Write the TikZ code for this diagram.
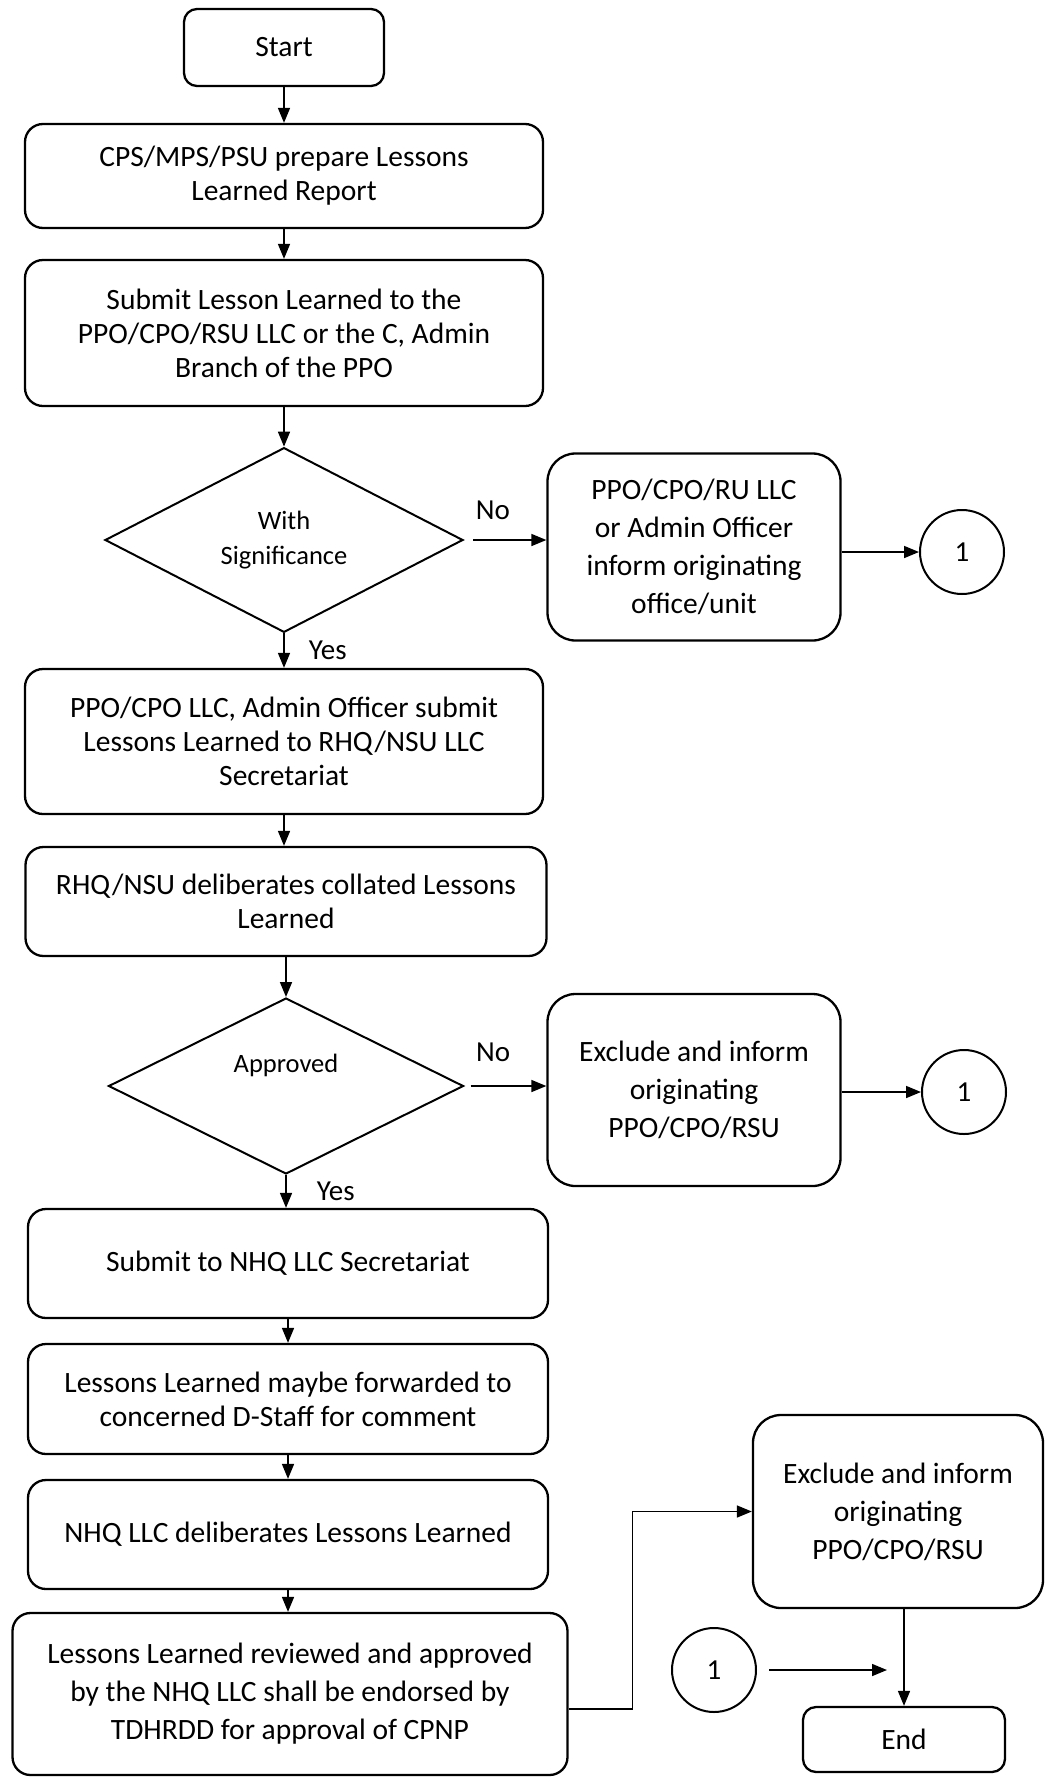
\documentclass[tikz,border=0pt]{standalone}
\usepackage{fontspec}
\setmainfont{Carlito}
\usetikzlibrary{shapes.geometric,arrows.meta}
\begin{document}
\begin{tikzpicture}[x=1pt,y=-1pt,
  box/.style={draw, line width=2.3pt, rounded corners=18pt, inner sep=0pt, align=center,
    font=\fontsize{29.5}{34}\selectfont},
  rbox/.style={box, rounded corners=28pt, font=\fontsize{29.5}{38}\selectfont},
  dec/.style={draw, diamond, line width=2pt, inner sep=0pt, align=center,
    font=\fontsize{26.5}{35}\selectfont},
  conn/.style={draw, circle, line width=2pt, minimum size=84pt, inner sep=0pt,
    font=\fontsize{29}{34}\selectfont},
  arr/.style={line width=1.6pt, -{Triangle[length=15pt,width=12pt]}},
  lbl/.style={font=\fontsize{29}{34}\selectfont, inner sep=0pt}]
\useasboundingbox (0,0) rectangle (1045,1778);
% main column
\node[box, rounded corners=13pt, minimum width=200pt, minimum height=77pt] (start) at (284,47.5) {Start};
\node[box, minimum width=518pt, minimum height=104pt] (cps) at (284,176) {CPS/MPS/PSU prepare Lessons\\Learned Report};
\node[box, minimum width=518pt, minimum height=146pt] (submit) at (284,333) {Submit Lesson Learned to the\\PPO/CPO/RSU LLC or the C, Admin\\Branch of the PPO};
\node[dec, minimum width=358pt, minimum height=174pt] (d1) at (284,540) {With\\Significance};
\node[box, minimum width=518pt, minimum height=145pt] (llc) at (284,741.5) {PPO/CPO LLC, Admin Officer submit\\Lessons Learned to RHQ/NSU LLC\\Secretariat};
\node[box, minimum width=521pt, minimum height=109pt] (rhq) at (286,901.5) {RHQ/NSU deliberates collated Lessons\\Learned};
\node[dec, minimum width=355pt, minimum height=176pt] (d2) at (286,1086) {Approved\\[10pt]};
\node[box, minimum width=520pt, minimum height=109pt] (nhq) at (288,1263.5) {Submit to NHQ LLC Secretariat};
\node[box, minimum width=520pt, minimum height=110pt] (dstaff) at (288,1399) {Lessons Learned maybe forwarded to\\concerned D-Staff for comment};
\node[box, minimum width=520pt, minimum height=109pt] (nhqllc) at (288,1534.5) {NHQ LLC deliberates Lessons Learned};
\node[box, font=\fontsize{29.5}{38}\selectfont, minimum width=555pt, minimum height=162pt] (last) at (290,1694) {Lessons Learned reviewed and approved\\by the NHQ LLC shall be endorsed by\\TDHRDD for approval of CPNP};
% right column
\node[rbox, minimum width=293pt, minimum height=187pt] (ppo1) at (694,547) {PPO/CPO/RU LLC\\or Admin Officer\\inform originating\\office/unit};
\node[conn] (c1) at (962,552) {1};
\node[rbox, minimum width=293pt, minimum height=192pt] (excl1) at (694,1090) {Exclude and inform\\originating\\PPO/CPO/RSU};
\node[conn] (c2) at (964,1092) {1};
\node[rbox, minimum width=290pt, minimum height=193pt] (excl2) at (898,1511.5) {Exclude and inform\\originating\\PPO/CPO/RSU};
\node[conn] (c3) at (714,1670) {1};
\node[box, rounded corners=13pt, minimum width=202pt, minimum height=65pt] (end) at (904,1739.5) {End};
\coordinate (c3e) at (887,1670);
% connectors
\draw[arr] (start.south) -- (cps.north);
\draw[arr] (cps.south) -- (submit.north);
\draw[arr] (submit.south) -- (d1.north);
\draw[arr] (d1.south) -- node[lbl, right=24pt] {Yes} (llc.north);
\draw[arr, shorten <=9pt] (d1.east) -- node[lbl, above=20pt, pos=0.35] {No} (d1.east -| ppo1.west);
\draw[arr] (ppo1.east |- c1) -- (c1.west);
\draw[arr] (llc.south) -- (llc.south |- rhq.north);
\draw[arr] (rhq.south) -- (d2.north);
\draw[arr] (d2.south) -- node[lbl, right=30pt] {Yes} (d2.south |- nhq.north);
\draw[arr, shorten <=6pt] (d2.east) -- node[lbl, above=24pt, pos=0.35] {No} (d2.east -| excl1.west);
\draw[arr] (excl1.east |- c2) -- (c2.west);
\draw[arr] (nhq.south) -- (dstaff.north);
\draw[arr] (dstaff.south) -- (nhqllc.north);
\draw[arr] (nhqllc.south) -- (nhqllc.south |- last.north);
\draw[arr] ([yshift=-15pt]last.east) -- ++(64,0) |- (excl2.west);
\draw[arr] (excl2.south -| end.north) -- (end.north);
\draw[arr, shorten <=12pt] (c3.east) -- (c3e);
\end{tikzpicture}
\end{document}
